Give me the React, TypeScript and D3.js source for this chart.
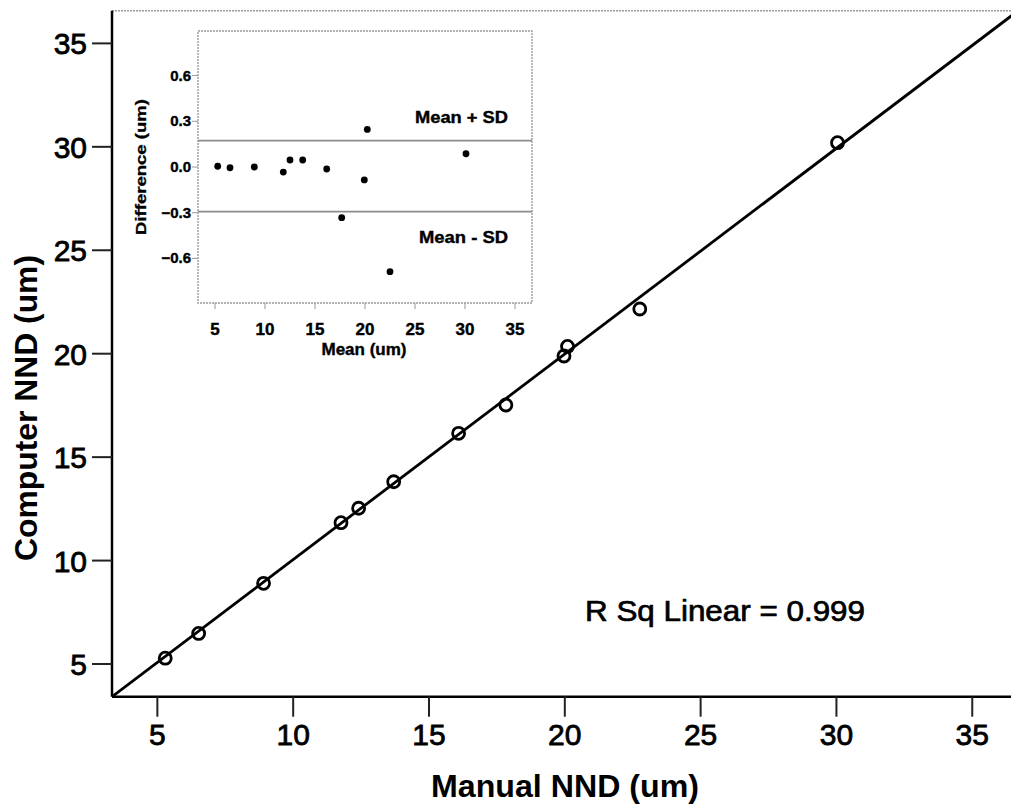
import React, { useEffect, useRef } from "react";
import * as d3 from "d3";

// main scatter: manual vs computer NND (um)
const manualNND = [5.29, 6.52, 8.91, 11.76, 12.41, 13.7, 16.09, 17.83, 19.97, 20.1, 22.76, 30.04];
const computerNND = [5.28, 6.48, 8.9, 11.83, 12.53, 13.81, 16.15, 17.52, 19.89, 20.35, 22.16, 30.2];
const mainTicks = [5, 10, 15, 20, 25, 30, 35];
const fitSlope = 0.994;
const fitIntercept = 0.11;
const rSqLabel = "R Sq Linear = 0.999";

// inset: Bland-Altman style
const meanNND = [5.27, 6.5, 8.93, 11.83, 12.5, 13.77, 16.17, 17.67, 19.93, 20.23, 22.5, 30.1];
const diffNND = [0.005, -0.005, 0.0, -0.033, 0.046, 0.046, -0.013, -0.333, -0.085, 0.247, -0.687, 0.087];
const insetXTicks = [5, 10, 15, 20, 25, 30, 35];
const insetYTicks = [-0.6, -0.3, 0.0, 0.3, 0.6];
const meanPlusSD = 0.173;
const meanMinusSD = -0.293;

const FONT = "'Liberation Sans', Arial, sans-serif";

export default function App() {
  const svgRef = useRef<SVGSVGElement | null>(null);

  useEffect(() => {
    const svg = d3.select(svgRef.current);
    svg.selectAll("*").remove();

    const left = 112, right = 1013, top = 10.7, bottom = 696.7;
    const x = d3.scaleLinear().domain([3.33, 36.5]).range([left, right]);
    const y = d3.scaleLinear().domain([3.42, 36.58]).range([bottom, top]);

    const g = svg.append("g");

    // top border (dotted gray)
    g.append("line")
      .attr("x1", left).attr("x2", right)
      .attr("y1", top).attr("y2", top)
      .attr("stroke", "#9a9a9a")
      .attr("stroke-width", 1.6)
      .attr("stroke-dasharray", "2 1");

    // fit line
    const xd = x.domain();
    g.append("clipPath").attr("id", "plotclip")
      .append("rect").attr("x", left).attr("y", top)
      .attr("width", right - left).attr("height", bottom - top);
    g.append("line")
      .attr("clip-path", "url(#plotclip)")
      .attr("x1", x(xd[0])).attr("y1", y(fitSlope * xd[0] + fitIntercept))
      .attr("x2", x(xd[1])).attr("y2", y(fitSlope * xd[1] + fitIntercept))
      .attr("stroke", "#000")
      .attr("stroke-width", 2.8);

    // points
    g.selectAll(".pt")
      .data(manualNND.map((m, i) => [m, computerNND[i]]))
      .enter()
      .append("circle")
      .attr("class", "pt")
      .attr("cx", d => x(d[0]))
      .attr("cy", d => y(d[1]))
      .attr("r", 6)
      .attr("fill", "none")
      .attr("stroke", "#000")
      .attr("stroke-width", 2.8);

    // axes
    g.append("line")
      .attr("x1", left).attr("x2", left).attr("y1", top).attr("y2", bottom)
      .attr("stroke", "#000").attr("stroke-width", 2.5);
    g.append("line")
      .attr("x1", left).attr("x2", right).attr("y1", bottom).attr("y2", bottom)
      .attr("stroke", "#000").attr("stroke-width", 2.5);

    g.selectAll(".xtick")
      .data(mainTicks).enter().append("line")
      .attr("x1", d => x(d)).attr("x2", d => x(d))
      .attr("y1", bottom).attr("y2", bottom + 20)
      .attr("stroke", "#222").attr("stroke-width", 2);
    g.selectAll(".xlab")
      .data(mainTicks).enter().append("text")
      .attr("x", d => x(d)).attr("y", bottom + 48)
      .attr("text-anchor", "middle")
      .style("font-family", FONT).style("font-size", "30px")
      .attr("stroke", "#000").attr("stroke-width", 0.8)
      .text(d => d);

    g.selectAll(".ytick")
      .data(mainTicks).enter().append("line")
      .attr("x1", left - 20).attr("x2", left)
      .attr("y1", d => y(d)).attr("y2", d => y(d))
      .attr("stroke", "#222").attr("stroke-width", 2);
    g.selectAll(".ylab")
      .data(mainTicks).enter().append("text")
      .attr("x", 87).attr("y", d => y(d) + 11)
      .attr("text-anchor", "end")
      .style("font-family", FONT).style("font-size", "30px")
      .attr("stroke", "#000").attr("stroke-width", 0.8)
      .text(d => d);

    // axis titles
    g.append("text")
      .attr("x", 565).attr("y", 797)
      .attr("text-anchor", "middle")
      .style("font-family", FONT).style("font-size", "31px").style("font-weight", "bold")
      .attr("textLength", 268).attr("lengthAdjust", "spacingAndGlyphs")
      .text("Manual NND (um)");
    g.append("text")
      .attr("transform", "translate(37,408) rotate(-90)")
      .attr("text-anchor", "middle")
      .style("font-family", FONT).style("font-size", "31px").style("font-weight", "bold")
      .attr("textLength", 306).attr("lengthAdjust", "spacingAndGlyphs")
      .text("Computer NND (um)");

    g.append("text")
      .attr("x", 585).attr("y", 621)
      .style("font-family", FONT).style("font-size", "29px")
      .attr("stroke", "#000").attr("stroke-width", 0.7)
      .attr("textLength", 280).attr("lengthAdjust", "spacingAndGlyphs")
      .text(rSqLabel);

    // ---- inset ----
    const il = 198, ir = 532, it = 31, ib = 303;
    const ix = d3.scaleLinear().domain([3.3, 36.7]).range([il, ir]);
    const iy = d3.scaleLinear().domain([-0.893, 0.893]).range([ib, it]);
    const inset = svg.append("g");

    inset.append("rect")
      .attr("x", il).attr("y", it).attr("width", ir - il).attr("height", ib - it)
      .attr("fill", "#fff")
      .attr("stroke", "#9a9a9a").attr("stroke-width", 1.4)
      .attr("stroke-dasharray", "2 1");

    [meanPlusSD, meanMinusSD].forEach(v => {
      inset.append("line")
        .attr("x1", il).attr("x2", ir).attr("y1", iy(v)).attr("y2", iy(v))
        .attr("stroke", "#8c8c8c").attr("stroke-width", 1.6);
    });

    inset.selectAll(".iytick")
      .data(insetYTicks).enter().append("line")
      .attr("x1", il - 6).attr("x2", il)
      .attr("y1", d => iy(d)).attr("y2", d => iy(d))
      .attr("stroke", "#999").attr("stroke-width", 1);
    inset.selectAll(".iylab")
      .data(insetYTicks).enter().append("text")
      .attr("x", il - 7).attr("y", d => iy(d) + 5)
      .attr("text-anchor", "end")
      .style("font-family", FONT).style("font-size", "15px").style("font-weight", "bold")
      .attr("stroke", "#000").attr("stroke-width", 0.4)
      .text(d => d3.format(".1f")(d));

    inset.selectAll(".ixtick")
      .data(insetXTicks).enter().append("line")
      .attr("x1", d => ix(d)).attr("x2", d => ix(d))
      .attr("y1", ib).attr("y2", ib + 6)
      .attr("stroke", "#999").attr("stroke-width", 1);
    inset.selectAll(".ixlab")
      .data(insetXTicks).enter().append("text")
      .attr("x", d => ix(d)).attr("y", 335)
      .attr("text-anchor", "middle")
      .style("font-family", FONT).style("font-size", "17px").style("font-weight", "bold")
      .attr("stroke", "#000").attr("stroke-width", 0.4)
      .text(d => d);

    inset.selectAll(".idot")
      .data(meanNND.map((m, i) => [m, diffNND[i]]))
      .enter().append("circle")
      .attr("cx", d => ix(d[0])).attr("cy", d => iy(d[1]))
      .attr("r", 3.4).attr("fill", "#000");

    inset.append("text")
      .attr("x", 415).attr("y", 123)
      .style("font-family", FONT).style("font-size", "17px").style("font-weight", "bold")
      .attr("stroke", "#000").attr("stroke-width", 0.4)
      .attr("textLength", 93).attr("lengthAdjust", "spacingAndGlyphs")
      .text("Mean + SD");
    inset.append("text")
      .attr("x", 419).attr("y", 243)
      .style("font-family", FONT).style("font-size", "17px").style("font-weight", "bold")
      .attr("stroke", "#000").attr("stroke-width", 0.4)
      .attr("textLength", 89).attr("lengthAdjust", "spacingAndGlyphs")
      .text("Mean - SD");

    inset.append("text")
      .attr("x", 364).attr("y", 355)
      .attr("text-anchor", "middle")
      .style("font-family", FONT).style("font-size", "17px").style("font-weight", "bold")
      .attr("stroke", "#000").attr("stroke-width", 0.4)
      .text("Mean (um)");
    inset.append("text")
      .attr("transform", "translate(146,167) rotate(-90)")
      .attr("text-anchor", "middle")
      .style("font-family", FONT).style("font-size", "14px").style("font-weight", "bold")
      .attr("stroke", "#000").attr("stroke-width", 0.3)
      .attr("textLength", 136).attr("lengthAdjust", "spacingAndGlyphs")
      .text("Difference (um)");
  }, []);

  return (
    <div style={{ position: "absolute", left: 0, top: 0, width: 1011, height: 811, background: "#fff", overflow: "hidden" }}>
      <svg ref={svgRef} width={1011} height={811}></svg>
    </div>
  );
}
